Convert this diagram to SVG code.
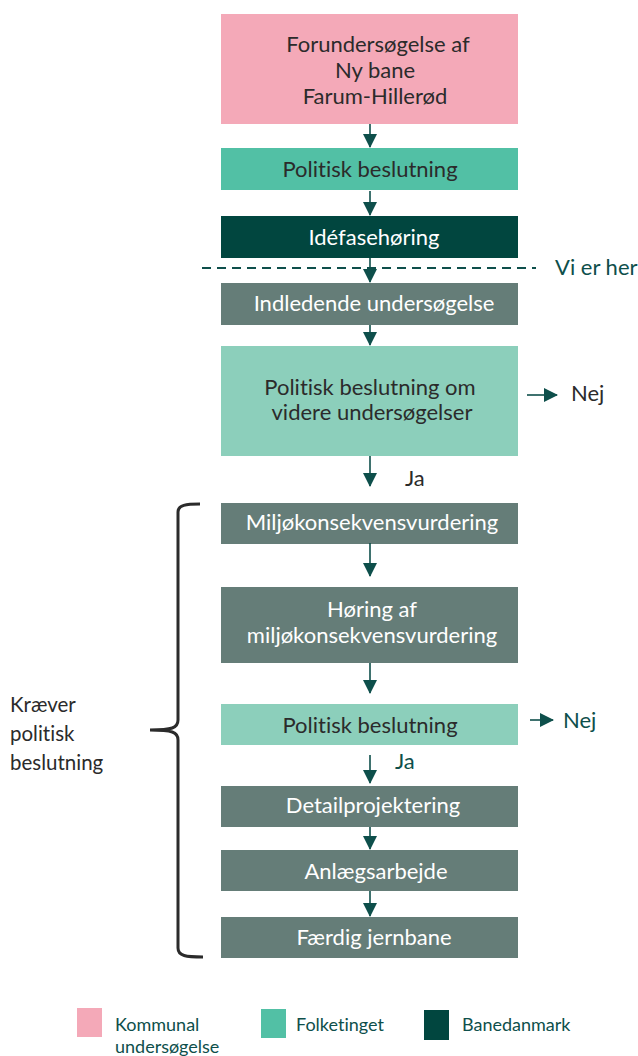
<svg xmlns="http://www.w3.org/2000/svg" width="638" height="1056" viewBox="0 0 638 1056">
<style>
text{font-family:Lato,"Open Sans",sans-serif;font-size:22px;font-variant-ligatures:none}
.d{fill:#2b2b2b}
.w{fill:#ffffff}
.g{fill:#0e4f4b}
.lg{font-size:18px}
.br{font-size:20.5px}
.conn line{stroke:#0e4f4b;stroke-width:1.6}
</style>
<defs>
<marker id="ah" markerWidth="14" markerHeight="14" refX="13" refY="7" orient="auto" markerUnits="userSpaceOnUse">
<path d="M0,0 L14,7 L0,14 Z" fill="#0e4f4b"/>
</marker>
</defs>
<rect width="638" height="1056" fill="#ffffff"/>
<g id="n1"><rect x="221" y="14" width="297" height="110" fill="#f4a9b8"/>
<text class="d" x="378" y="52" text-anchor="middle">Forundersøgelse af</text>
<text class="d" x="375" y="78" text-anchor="middle">Ny bane</text>
<text class="d" x="375" y="104" text-anchor="middle">Farum-Hillerød</text></g>
<g id="n2"><rect x="221" y="148" width="297" height="42" fill="#52c0a5"/>
<text class="d" x="370" y="177" text-anchor="middle">Politisk beslutning</text></g>
<g id="n3"><rect x="221" y="216" width="297" height="42" fill="#01463f"/>
<text class="w" x="374" y="245" text-anchor="middle">Idéfasehøring</text></g>
<g id="n4"><rect x="221" y="283" width="297" height="42" fill="#657d78"/>
<text class="w" x="374" y="311" text-anchor="middle">Indledende undersøgelse</text></g>
<g id="n5"><rect x="221" y="346" width="297" height="110" fill="#8ccfbb"/>
<text class="d" x="370" y="395" text-anchor="middle">Politisk beslutning om</text>
<text class="d" x="372" y="420" text-anchor="middle">videre undersøgelser</text></g>
<g id="n6"><rect x="221" y="503" width="297" height="41" fill="#657d78"/>
<text class="w" x="372" y="530" text-anchor="middle">Miljøkonsekvensvurdering</text></g>
<g id="n7"><rect x="221" y="587" width="297" height="76" fill="#657d78"/>
<text class="w" x="372" y="617" text-anchor="middle">Høring af</text>
<text class="w" x="372" y="643" text-anchor="middle">miljøkonsekvensvurdering</text></g>
<g id="n8"><rect x="221" y="704" width="297" height="41" fill="#8ccfbb"/>
<text class="d" x="370" y="733" text-anchor="middle">Politisk beslutning</text></g>
<g id="n9"><rect x="221" y="786" width="297" height="41" fill="#657d78"/>
<text class="w" x="373" y="813" text-anchor="middle">Detailprojektering</text></g>
<g id="n10"><rect x="221" y="850" width="297" height="41" fill="#657d78"/>
<text class="w" x="376" y="879" text-anchor="middle">Anlægsarbejde</text></g>
<g id="n11"><rect x="221" y="917" width="297" height="41" fill="#657d78"/>
<text class="w" x="374" y="945" text-anchor="middle">Færdig jernbane</text></g>
<g id="marker-vi-er-her">
<line x1="202" y1="268" x2="536" y2="268" stroke="#0e4f4b" stroke-width="2" stroke-dasharray="9,6"/>
<text class="g" x="555" y="275">Vi er her</text></g>
<g class="conn" id="connectors">
<line x1="370" y1="124" x2="370" y2="147" marker-end="url(#ah)"/>
<line x1="370" y1="191" x2="370" y2="215" marker-end="url(#ah)"/>
<line x1="370" y1="258" x2="370" y2="282" marker-end="url(#ah)"/>
<line x1="370" y1="325" x2="370" y2="345" marker-end="url(#ah)"/>
<line x1="370" y1="456" x2="370" y2="486" marker-end="url(#ah)"/>
<line x1="370" y1="543" x2="370" y2="576" marker-end="url(#ah)"/>
<line x1="370" y1="663" x2="370" y2="693" marker-end="url(#ah)"/>
<line x1="370" y1="755" x2="370" y2="783" marker-end="url(#ah)"/>
<line x1="370" y1="827" x2="370" y2="849" marker-end="url(#ah)"/>
<line x1="370" y1="891" x2="370" y2="916" marker-end="url(#ah)"/>
<line x1="527" y1="395" x2="557" y2="395" marker-end="url(#ah)"/>
<line x1="530" y1="720" x2="553" y2="720" marker-end="url(#ah)"/>
</g>
<g id="labels">
<text class="d" x="571" y="401">Nej</text>
<text class="d" x="405" y="486">Ja</text>
<text class="g" x="563" y="728">Nej</text>
<text class="g" x="395" y="769">Ja</text>
</g>
<g id="brace">
<path d="M200,504 C186,504 178,505 178,512 L178,720 C178,728 172,730 150,730 C172,730 178,732 178,740 L178,948 C178,956 186,957 203,957" fill="none" stroke="#2b2b2b" stroke-width="3"/>
<text class="d br" x="10" y="712">Kræver</text>
<text class="d br" x="10" y="741">politisk</text>
<text class="d br" x="10" y="770">beslutning</text>
</g>
<g id="legend">
<rect x="77" y="1008" width="25" height="29" fill="#f4a9b8"/>
<text class="g lg" x="115" y="1031">Kommunal</text>
<text class="g lg" x="115" y="1053">undersøgelse</text>
<rect x="261" y="1009" width="25" height="29" fill="#52c0a5"/>
<text class="g lg" x="296" y="1031">Folketinget</text>
<rect x="424" y="1010" width="25" height="30" fill="#01463f"/>
<text class="g lg" x="462" y="1031">Banedanmark</text>
</g>
</svg>
